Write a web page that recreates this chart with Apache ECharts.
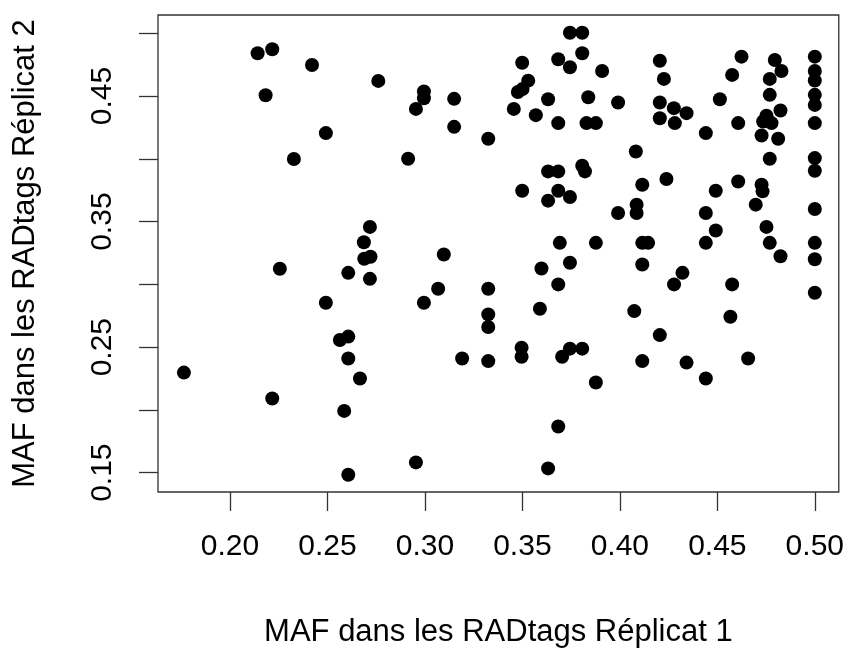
<!DOCTYPE html>
<html>
<head>
<meta charset="utf-8">
<script src="https://cdn.jsdelivr.net/npm/echarts@6/dist/echarts.min.js"></script>
<style>
html,body{margin:0;padding:0;background:#fff;}
#chart{width:847px;height:653px;}
</style>
</head>
<body>
<div id="chart"></div>
<script>
var xValues = [0.2142,0.2217,0.2421,0.2183,0.2761,0.2492,0.2328,0.2718,0.2687,0.2689,0.2721,0.2607,0.2718,0.2256,0.2492,0.2564,0.2607,0.2607,0.2667,0.1764,0.2217,0.2586,0.2607,
0.3744,0.3807,0.3807,0.3684,0.3744,0.3499,0.3909,0.3530,0.3501,0.3477,0.3632,0.3456,0.3569,0.3684,0.3838,0.3829,0.3877,0.2995,0.2995,0.2954,0.3150,0.3150,0.3325,0.2914,0.3632,0.3684,0.3807,0.3821,0.3499,0.3684,0.3744,0.3632,0.3097,0.3692,0.3877,0.3744,0.3598,0.3684,0.3068,0.2995,0.3325,0.3325,0.3325,0.3590,0.3496,0.3496,0.3191,0.3325,0.3704,0.3744,0.3807,0.3877,0.3684,0.2954,0.3632,
0.3991,0.4205,0.4226,0.4205,0.4205,0.4277,0.4342,0.4282,0.4082,0.4239,0.4115,0.4086,0.4086,0.3991,0.4115,0.4145,0.4624,0.4576,0.4513,0.4607,0.4441,0.4492,0.4607,0.4441,0.4492,0.4441,
0.4795,0.4829,0.4769,0.4769,0.4824,0.4752,0.4735,0.4778,0.4727,0.4812,0.4769,0.4727,0.4732,0.4697,0.4752,0.4769,0.4824,
0.50,0.50,0.50,0.50,0.50,0.50,0.50,0.50,0.50,0.50,0.50,0.50,
0.4115,0.4321,0.4278,0.4576,0.4074,0.4567,0.4205,0.4115,0.4342,0.4658,0.4441];
var yValues = [0.4841,0.4873,0.4748,0.4507,0.4621,0.4205,0.3999,0.3458,0.3336,0.3204,0.3220,0.3092,0.3044,0.3124,0.2854,0.2557,0.2584,0.2409,0.2250,0.2297,0.2091,0.1992,0.1483,
0.5005,0.5005,0.4841,0.4793,0.4730,0.4766,0.4700,0.4623,0.4557,0.4533,0.4475,0.4398,0.4348,0.4285,0.4491,0.4285,0.4285,0.4536,0.4483,0.4398,0.4478,0.4255,0.4160,0.4001,0.3900,0.3900,0.3945,0.3900,0.3746,0.3746,0.3696,0.3667,0.3238,0.3331,0.3331,0.3172,0.3127,0.3000,0.2965,0.2854,0.2965,0.2761,0.2660,0.2806,0.2496,0.2424,0.2409,0.2389,0.2424,0.2488,0.2488,0.2218,0.1868,0.1582,0.1534,
0.4449,0.4782,0.4637,0.4449,0.4324,0.4404,0.4364,0.4285,0.4059,0.3839,0.3794,0.3635,0.3569,0.3569,0.3331,0.3331,0.4814,0.4669,0.4475,0.4285,0.4205,0.3746,0.3820,0.3569,0.3429,0.3331,
0.4788,0.4700,0.4637,0.4510,0.4385,0.4343,0.4297,0.4285,0.4186,0.4160,0.4001,0.3794,0.3741,0.3635,0.3458,0.3331,0.3224,
0.4814,0.4700,0.4624,0.4510,0.4430,0.4285,0.4006,0.3905,0.3601,0.3331,0.3200,0.2933,
0.3158,0.3092,0.3000,0.3000,0.2787,0.2742,0.2596,0.2389,0.2377,0.2409,0.2250];
var xTicks = [0.20,0.25,0.30,0.35,0.40,0.45,0.50];
var yTicks = [0.15,0.20,0.25,0.30,0.35,0.40,0.45,0.50];
var yLabels = [0.15,0.25,0.35,0.45];
var xTitle = 'MAF dans les RADtags Réplicat 1';
var yTitle = 'MAF dans les RADtags Réplicat 2';

var points = xValues.map(function(x,i){return [x, yValues[i]];});
var font = 'Liberation Sans, Arial, sans-serif';
var chart = echarts.init(document.getElementById('chart'), null, {renderer:'canvas'});
chart.setOption({
  animation:false,
  backgroundColor:'#fff',
  grid:{left:158,right:8,top:15,bottom:160,show:true,borderColor:'#333',borderWidth:1.3,backgroundColor:'transparent'},
  xAxis:{
    type:'value',min:0.1631,max:0.5123,
    axisLine:{show:false},
    splitLine:{show:false},
    axisTick:{show:true,inside:false,length:19,customValues:xTicks,lineStyle:{color:'#333',width:1.3}},
    axisLabel:{customValues:xTicks,formatter:function(v){return v.toFixed(2);},fontSize:30,color:'#000',margin:40,fontFamily:font},
    name:xTitle,nameLocation:'middle',nameGap:125,
    nameTextStyle:{fontSize:31,color:'#000',fontFamily:font}
  },
  yAxis:{
    type:'value',min:0.1346,max:0.5146,
    axisLine:{show:false},
    splitLine:{show:false},
    axisTick:{show:true,inside:false,length:19,customValues:yTicks,lineStyle:{color:'#333',width:1.3}},
    axisLabel:{customValues:yLabels,rotate:90,formatter:function(v){return v.toFixed(2);},fontSize:30,color:'#000',margin:40,fontFamily:font},
    name:yTitle,nameLocation:'middle',nameGap:117,
    nameTextStyle:{fontSize:31,color:'#000',fontFamily:font}
  },
  series:[{
    type:'scatter',
    data:points,
    symbol:'circle',
    symbolSize:14,
    itemStyle:{color:'#000',opacity:1}
  }]
});
</script>
</body>
</html>
